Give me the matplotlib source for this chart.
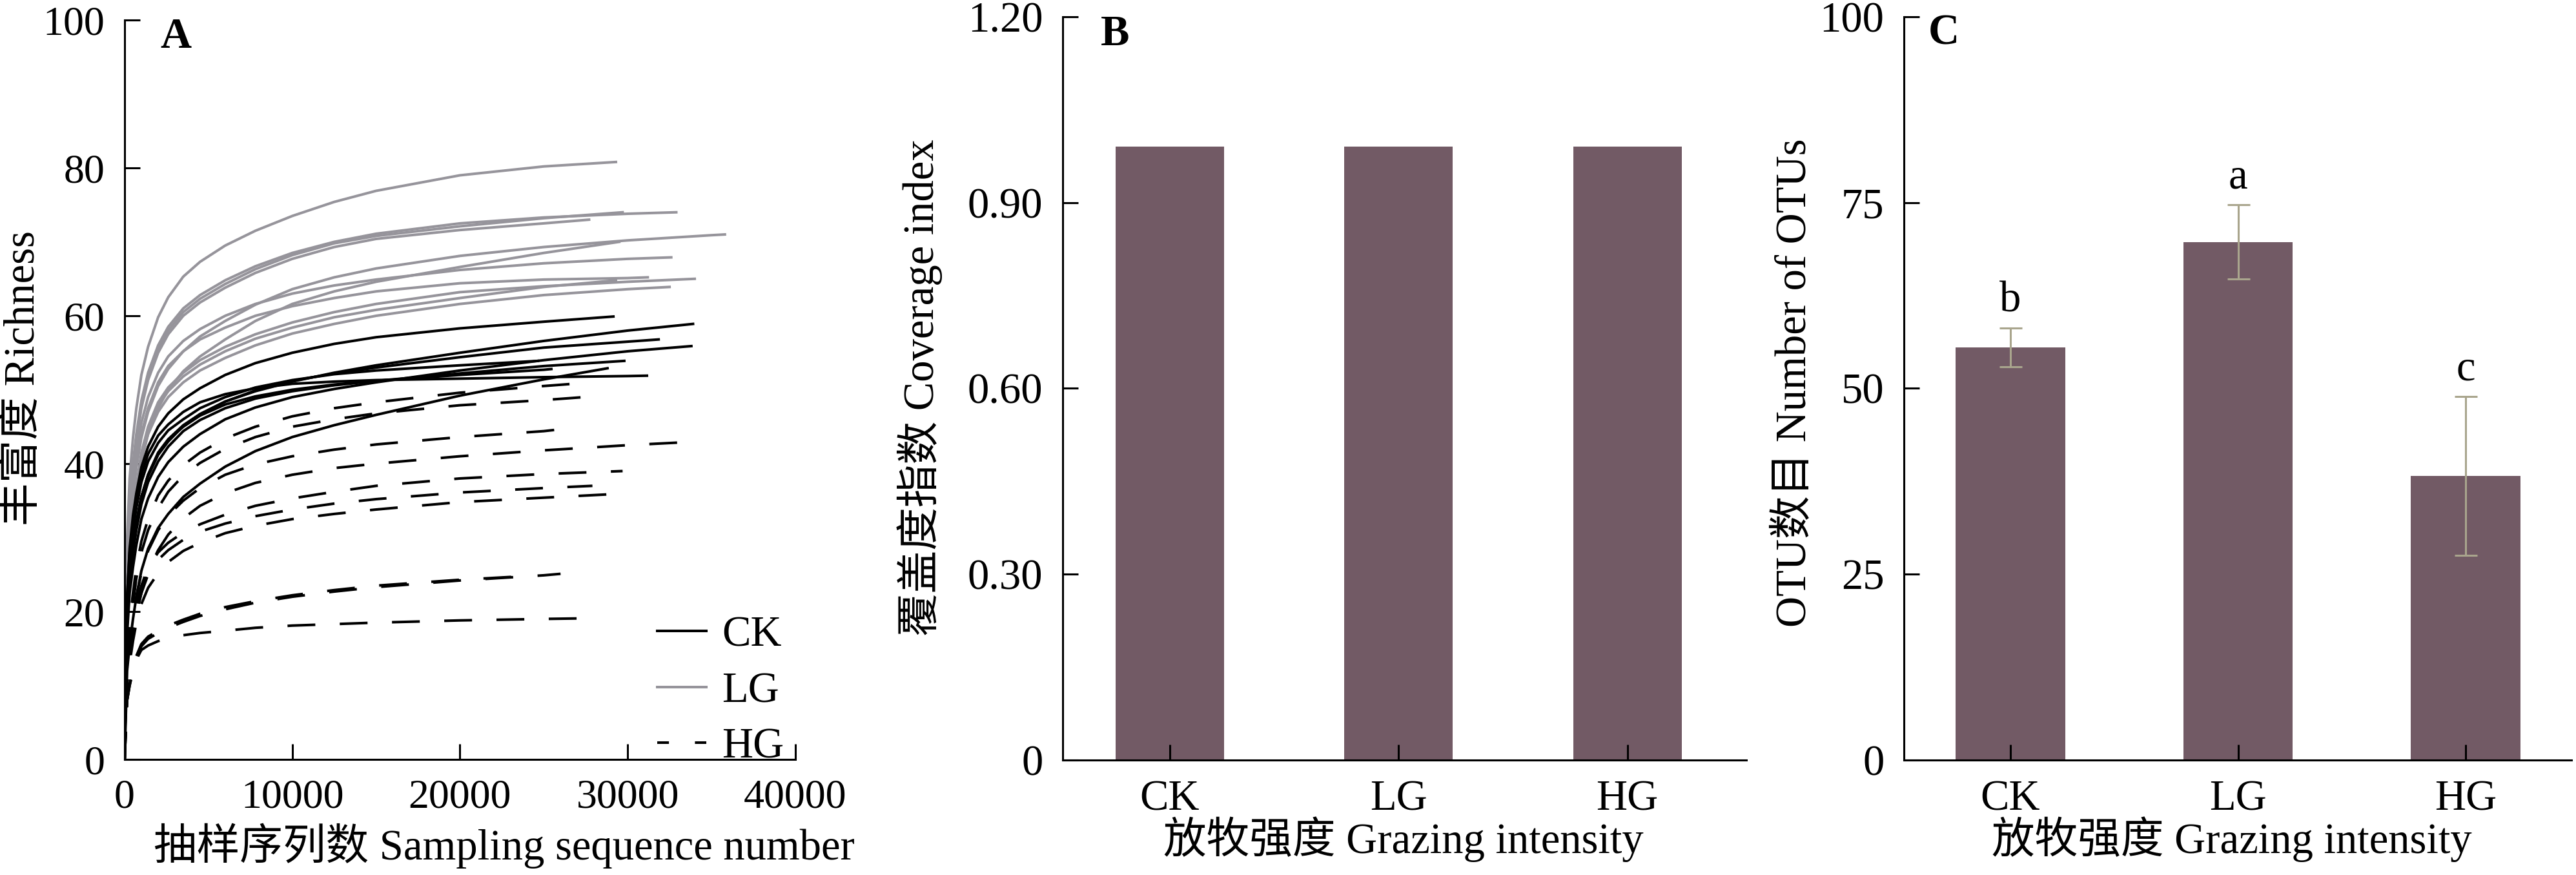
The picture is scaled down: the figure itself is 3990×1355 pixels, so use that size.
import matplotlib
matplotlib.use("Agg")
import matplotlib.pyplot as plt
from matplotlib.lines import Line2D

# fonts: Times-like latin, CJK fallback
plt.rcParams['font.family'] = ['Liberation Serif', 'Noto Sans CJK SC']

# ---------------- data ----------------
# rarefaction curves: richness at these depths (truncated), then the end point
depth_grid = [0, 150, 300, 500, 700, 1000, 1400, 2000, 2600, 3500, 4500, 6000,
              7800, 10000, 12500, 15000, 20000, 25000, 30000, 35000]

ck_end_depth = [29150, 33900, 31850, 33800, 24650, 29800, 25450, 28800, 31150]
ck_end_rich = [59.9, 58.9, 56.8, 55.9, 53.9, 53.9, 52.8, 52.9, 51.9]
ck_rich = [
    [0, 22, 28.5, 33, 36, 39.5, 42.3, 45, 46.8, 48.7, 50.2, 52, 53.6, 55, 56.2, 57.1, 58.3, 59.2],
    [0, 19, 25, 29, 32, 35.5, 38.5, 41.5, 43.3, 45.2, 46.7, 48.4, 49.8, 51.1, 52.3, 53.3, 55, 56.6, 58],
    [0, 19, 25, 29, 32, 35.5, 38.3, 41.2, 43, 45.1, 46.7, 48.4, 49.9, 51.2, 52.2, 53.0, 54.4, 55.7, 56.5],
    [0, 17, 22.5, 26, 29, 32.5, 35.3, 38.2, 40.2, 42.3, 44, 46, 47.6, 49, 50.1, 51, 52.6, 54, 55.2],
    [0, 21, 27, 31, 34, 37.5, 40.3, 42.8, 44.5, 46, 47.5, 49, 50.3, 51.3, 52.1, 52.6, 53.3],
    [0, 18, 24, 28, 31, 34.5, 37.5, 40.3, 42.3, 44.4, 45.9, 47.5, 48.8, 49.8, 50.6, 51.2, 52.2, 53.2],
    [0, 19, 25, 29, 32, 35.5, 38.5, 41.3, 43.2, 45, 46.5, 48, 49.1, 50, 50.7, 51.2, 52, 52.7],
    [0, 12, 15.5, 19, 22, 25.5, 28.5, 31.3, 33.2, 35.5, 37.3, 39.6, 41.7, 43.6, 45.2, 46.6, 49.2, 51.4],
    [0, 22, 28, 32, 35, 38.5, 41.3, 43.8, 45.3, 47, 48.3, 49.4, 50.2, 50.8, 51.1, 51.3, 51.5, 51.7, 51.85],
]

lg_end_depth = [29300, 32900, 29700, 27700, 35800, 29500, 32600, 31200, 34000, 29300, 32500]
lg_end_rich = [80.8, 74.0, 74.0, 73.0, 71.0, 70.0, 67.9, 65.2, 65.0, 64.8, 63.9]
lg_rich = [
    [0, 30, 38, 43.5, 47.5, 52, 55.8, 59.8, 62.5, 65.3, 67.3, 69.5, 71.5, 73.5, 75.4, 76.9, 79.0, 80.2],
    [0, 27, 34.5, 40, 44, 48.5, 52.3, 56, 58.5, 61, 62.8, 64.8, 66.7, 68.5, 70, 71.1, 72.5, 73.3, 73.8],
    [0, 26, 33.5, 39.5, 43.5, 48, 51.8, 55.5, 58, 60.5, 62.3, 64.3, 66.3, 68.2, 69.8, 70.8, 72.1, 73.2],
    [0, 26, 33, 39, 43, 47.5, 51.3, 55, 57.5, 60, 61.8, 63.8, 65.8, 67.7, 69.3, 70.4, 71.6, 72.5],
    [0, 24, 30.5, 36, 39.5, 43.5, 47, 50.5, 52.8, 55.2, 57.2, 59.3, 61.5, 63.6, 65.2, 66.4, 68.1, 69.3, 70.2, 70.9],
    [0, 22, 28, 33, 36.5, 40.5, 44, 47.5, 50, 52.5, 54.5, 56.8, 59.3, 61.6, 63.3, 64.6, 66.6, 68.5],
    [0, 25, 32, 37.5, 41, 45.5, 49, 52.3, 54.5, 56.6, 58.2, 60, 61.6, 63, 64.1, 64.9, 66.2, 67.1, 67.7],
    [0, 24, 31, 36, 39.5, 44, 47.5, 51, 53.2, 55.2, 56.8, 58.4, 60, 61.3, 62.4, 63.3, 64.4, 64.9, 65.1],
    [0, 22, 28.5, 33.5, 37, 41.5, 45, 48.3, 50.3, 52.3, 54, 55.8, 57.5, 59.1, 60.5, 61.6, 63.2, 64.0, 64.6],
    [0, 21.5, 28, 33, 36.5, 41, 44.5, 47.8, 49.8, 51.8, 53.4, 55.2, 56.9, 58.4, 59.8, 60.8, 62.4, 63.9],
    [0, 21, 27.5, 32, 35.5, 40.5, 44, 47, 49, 51, 52.6, 54.3, 56, 57.6, 58.9, 60, 61.6, 62.8, 63.6],
]

hg_end_depth = [27900, 27400, 26600, 34300, 29700, 27900, 29300, 26000, 24000, 28100]
hg_end_rich = [51.0, 49.0, 44.8, 43.0, 39.0, 37.0, 35.9, 25.1, 24.8, 19.1]
hg_rich = [
    [0, 14, 18.5, 22.5, 26, 29.5, 32.5, 35.7, 37.7, 39.8, 41.5, 43.4, 45, 46.4, 47.5, 48.3, 49.6, 50.5],
    [0, 13, 17.5, 21, 24.5, 28, 31, 34, 36.2, 38.4, 40.1, 42, 43.6, 45, 46, 46.8, 47.9, 48.6],
    [0, 12, 15.5, 19, 22, 25.2, 28.2, 31, 33, 35, 36.7, 38.5, 39.9, 41, 41.9, 42.6, 43.6, 44.4],
    [0, 11, 14, 17, 19.5, 22.5, 25.5, 28.3, 30.4, 32.6, 34.3, 36, 37.4, 38.5, 39.4, 40, 41, 41.8, 42.5],
    [0, 12, 15, 18.5, 21, 23.5, 26, 28, 29.3, 30.7, 31.8, 33.1, 34.3, 35.3, 36.2, 37, 38, 38.6],
    [0, 11, 14.5, 17.5, 20, 22.5, 25, 27, 28.3, 29.7, 30.8, 31.9, 32.9, 33.8, 34.6, 35.2, 36.1, 36.7],
    [0, 10, 13, 16, 18.5, 21, 23.2, 25.2, 26.7, 28.2, 29.3, 30.6, 31.6, 32.5, 33.2, 33.8, 34.8, 35.4],
    [0, 8, 10, 12, 13.7, 15.3, 16.3, 17.1, 17.8, 18.6, 19.4, 20.3, 21.2, 22, 22.7, 23.3, 24.2, 24.9],
    [0, 8, 10.2, 12.2, 14, 15.6, 16.6, 17.4, 18.1, 18.9, 19.7, 20.6, 21.4, 22.2, 22.9, 23.5, 24.3],
    [0, 8, 10, 12, 13.5, 14.8, 15.4, 16, 16.4, 16.8, 17.1, 17.4, 17.8, 18.1, 18.3, 18.5, 18.8, 19.0],
]

groups = ['CK', 'LG', 'HG']
coverage = [0.99, 0.99, 0.99]
otu_mean = [55.5, 69.7, 38.2]
otu_err = [2.6, 5.0, 10.7]
otu_letter = ['b', 'a', 'c']

bar_color = '#725a65'
err_color = '#a9a58d'
gray = '#96949b'
lw = 2.2        # spines, ticks, error bars
clw = 2.9       # rarefaction curves
fs = 48         # labels, legend, category ticks
fs_num = 46     # numeric ticks of panel A


def curve(vals, end_d, end_r):
    return depth_grid[:len(vals)] + [end_d], vals + [end_r]


def style_axes(ax, size):
    for s in ['top', 'right']:
        ax.spines[s].set_visible(False)
    for s in ['left', 'bottom']:
        ax.spines[s].set_linewidth(lw)
    ax.tick_params(direction='in', length=17, width=lw, labelsize=size, pad=22)


fig = plt.figure(figsize=(39.91, 13.55), dpi=100)
axA = fig.add_axes([0.04836, 0.1321, 0.2603, 0.845])
axB = fig.add_axes([0.41243, 0.13137, 0.26535, 0.84945])
axC = fig.add_axes([0.73891, 0.13137, 0.25908, 0.84945])

# ---------------- A: rarefaction ----------------
for vals, d, r in zip(hg_rich, hg_end_depth, hg_end_rich):
    x, y = curve(vals, d, r)
    axA.plot(x, y, color='black', lw=clw, dashes=(10.7, 9.4))
for vals, d, r in zip(lg_rich, lg_end_depth, lg_end_rich):
    x, y = curve(vals, d, r)
    axA.plot(x, y, color=gray, lw=clw)
for vals, d, r in zip(ck_rich, ck_end_depth, ck_end_rich):
    x, y = curve(vals, d, r)
    axA.plot(x, y, color='black', lw=clw)

axA.set_xlim(0, 40000)
axA.set_ylim(0, 100)
axA.set_xticks([0, 10000, 20000, 30000, 40000])
axA.set_yticks([0, 20, 40, 60, 80, 100])
style_axes(axA, fs_num)
axA.set_xlabel('抽样序列数 Sampling sequence number', fontsize=fs, va='center')
axA.xaxis.set_label_coords(0.566, -0.117)
axA.set_ylabel('丰富度 Richness', fontsize=fs, va='center')
axA.yaxis.set_label_coords(-0.151, 0.516)
axA.text(0.076, 0.977, 'A', transform=axA.transAxes, fontsize=fs, fontweight='bold',
         ha='center', va='center')

handles = [Line2D([], [], color='black', lw=clw),
           Line2D([], [], color=gray, lw=clw),
           Line2D([], [], color='black', lw=clw, dashes=(4.5, 10.0))]
axA.legend(handles, groups, loc='lower left', bbox_to_anchor=(0.794, -0.01),
           frameon=False, fontsize=fs, handlelength=1.14, handletextpad=0.37,
           labelspacing=0.38, borderpad=0, borderaxespad=0)

# ---------------- B: coverage ----------------
xpos = range(len(groups))
axB.bar(xpos, coverage, width=0.474, color=bar_color)
axB.set_xlim(-0.468, 2.52)
axB.set_ylim(0, 1.2)
axB.set_yticks([0, 0.3, 0.6, 0.9, 1.2])
axB.set_yticklabels(['0', '0.30', '0.60', '0.90', '1.20'])
axB.set_xticks(list(xpos))
axB.set_xticklabels(groups)
style_axes(axB, fs)
axB.set_xlabel('放牧强度 Grazing intensity', fontsize=fs, va='center')
axB.xaxis.set_label_coords(0.498, -0.107)
axB.set_ylabel('覆盖度指数 Coverage index', fontsize=fs, va='center')
axB.yaxis.set_label_coords(-0.209, 0.501)
axB.text(0.077, 0.976, 'B', transform=axB.transAxes, fontsize=fs, fontweight='bold',
         ha='center', va='center')

# ---------------- C: OTU number ----------------
axC.bar(xpos, otu_mean, width=0.48, color=bar_color)
axC.errorbar(list(xpos), otu_mean, yerr=otu_err, fmt='none', ecolor=err_color,
             elinewidth=lw, capsize=12.6, capthick=lw)
for i, (m, e, t) in enumerate(zip(otu_mean, otu_err, otu_letter)):
    axC.text(i, m + e + 1.0, t, fontsize=fs, ha='center', va='bottom')
axC.set_xlim(-0.468, 2.465)
axC.set_ylim(0, 100)
axC.set_yticks([0, 25, 50, 75, 100])
axC.set_xticks(list(xpos))
axC.set_xticklabels(groups)
style_axes(axC, fs)
axC.set_xlabel('放牧强度 Grazing intensity', fontsize=fs, va='center')
axC.xaxis.set_label_coords(0.491, -0.107)
axC.set_ylabel('OTU数目 Number of OTUs', fontsize=fs, va='center')
axC.yaxis.set_label_coords(-0.164, 0.508)
axC.text(0.06, 0.977, 'C', transform=axC.transAxes, fontsize=fs, fontweight='bold',
         ha='center', va='center')

fig.savefig('out.png', dpi=100)
